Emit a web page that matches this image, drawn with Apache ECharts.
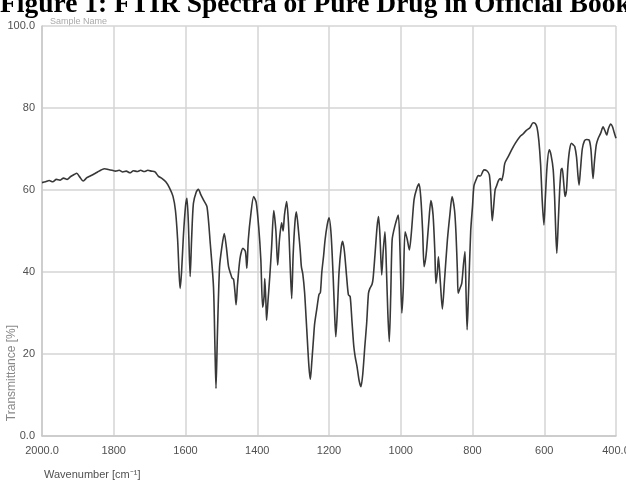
<!DOCTYPE html>
<html>
<head>
<meta charset="utf-8">
<script src="https://cdn.jsdelivr.net/npm/echarts@6/dist/echarts.min.js"></script>
<style>html,body{margin:0;padding:0;background:#fff;overflow:hidden;}#c{width:626px;height:492px;}</style>
</head>
<body>
<div id="c"></div>
<script>
const titleText = "Figure 1: FTIR Spectra of Pure Drug in Official Book";
const xAxisTitle = "Wavenumber [cm\u207B\u00B9]";
const yAxisTitle = "Transmittance [%]";
const xTickLabels = {2000: "2000.0", 1800: "1800", 1600: "1600", 1400: "1400", 1200: "1200", 1000: "1000", 800: "800", 600: "600", 400: "400.0"};
const yTickLabels = {100: "100.0", 80: "80", 60: "60", 40: "40", 20: "20", 0: "0.0"};

const wavenumber = [2000,1990,1980,1970,1960,1950,1940,1930,1920,1910,1903,1895,1885,1875,1866,1855,1845,1835,1825,1815,1805,1795,1785,1775,1765,1755,1745,1735,1725,1715,1705,1695,1685,1676,1665,1655,1645,1635,1628,1622,1618,1615,1611,1606,1600,1596,1592,1587,1583,1578,1570,1564,1558,1550,1540,1531,1522,1518,1515,1511,1505,1498,1492,1486,1480,1474,1470,1466,1462,1459,1455,1448,1440,1433,1429,1425,1418,1410,1403,1396,1390,1385,1381,1379,1376,1374,1370,1365,1360,1354,1348,1343,1338,1332,1328,1324,1318,1313,1308,1304,1300,1295,1291,1285,1280,1277,1273,1268,1262,1256,1252,1248,1243,1240,1234,1228,1224,1220,1215,1211,1205,1200,1194,1188,1184,1181,1177,1172,1166,1162,1157,1151,1146,1141,1136,1131,1127,1122,1116,1111,1106,1100,1095,1090,1086,1080,1077,1072,1066,1062,1058,1053,1049,1044,1040,1036,1032,1028,1024,1017,1007,1002,997,993,988,982,976,970,963,956,949,944,939,935,931,928,922,916,910,905,902,898,895,890,884,878,870,863,857,850,846,842,840,835,830,825,821,818,815,811,805,800,796,790,784,778,768,760,753,749,745,742,737,733,727,722,719,714,710,700,691,680,668,660,649,640,631,625,620,615,610,606,601,597,592,586,581,575,571,568,565,561,557,553,550,546,542,538,534,529,524,519,515,510,506,503,499,494,488,482,475,470,467,464,460,455,450,443,436,431,426,421,415,410,405,400];
const transmittance = [61.8,62.0,62.3,62.0,62.6,62.4,62.9,62.6,63.3,63.8,64.1,63.2,62.2,63.0,63.4,63.9,64.4,64.9,65.2,65.0,64.8,64.6,64.8,64.4,64.6,64.2,64.7,64.5,64.8,64.5,64.8,64.6,64.4,63.4,62.8,62.0,60.6,58.5,55,48,40,36,40,48.6,56,58,52,38.9,48,56.7,59.5,60.2,59,57.6,55.9,47,36.4,22,11.6,25,41.3,46.5,49.4,46,41.3,39.5,38.5,38.2,35,32,37,43.3,45.8,45,40.9,47.8,54,58.4,57,51,43,31.4,34,38.4,33,28.2,33,39,46,55,50,41.7,48,52,50,54,57.2,52,41,33.5,44,52,54.7,50,45,41.3,39.5,35,26,17,13.8,18,24,27.4,31,34.5,35,40,44,47.8,51.5,53.2,49,38,29,24.2,30,40,46,47.5,45,39,34.5,34,28,22,19.3,17,13.5,12,15,22,27.5,34.8,36,37,38.5,44,51,53.5,49,39.3,45,49.8,41,30,23,34,47.8,51,53.9,45,30,36,49.8,48,45.4,50,57.6,60.2,61.5,58,50,41.3,43,45.4,52,57.4,54,45,37.2,40,43.7,38,31,38,47.8,54,58.4,55,49.4,40,34.8,36,37.2,42,45,35,25.9,35,50,56,61,62.5,63.5,63.4,64.9,64.7,63.7,59,52.5,55,60,61,62.4,62.8,62.3,64,66.5,68.2,69.8,71.5,73,73.6,74.6,75.2,76.4,76.2,75.2,72,66,58,51.5,58,66,69.8,68.5,64.9,58,50,44.6,52,60,65,65.3,62,58.4,60,66,70,71.4,71,70.6,68,63.5,61.2,65,70,72,72.3,72.2,70,66,62.8,67,71,72.5,73.8,75.4,74.5,73.4,75,76.1,75.5,74,72.6];

const seriesData = wavenumber.map((w, i) => [w, transmittance[i]]);
const labelFont = '"Liberation Sans Narrow", "Liberation Sans", Arial, sans-serif';

const chart = echarts.init(document.getElementById('c'), null, {renderer: 'canvas', width: 626, height: 492});
chart.setOption({
  animation: false,
  backgroundColor: '#ffffff',
  grid: {left: 42, right: 10, top: 26, bottom: 56, containLabel: false, outerBoundsMode: 'none'},
  xAxis: {
    type: 'value', inverse: true, min: 400, max: 2000, interval: 200,
    axisLine: {show: true, lineStyle: {color: '#c8c8c8', width: 1.5}},
    axisTick: {show: false},
    splitLine: {show: true, lineStyle: {color: '#d4d4d4', width: 1.5}},
    axisLabel: {margin: 9, fontSize: 11, color: '#505050', fontFamily: labelFont,
      formatter: v => xTickLabels[v] !== undefined ? xTickLabels[v] : ''}
  },
  yAxis: {
    type: 'value', min: 0, max: 100, interval: 20,
    axisLine: {show: true, lineStyle: {color: '#c8c8c8', width: 1.5}},
    axisTick: {show: false},
    splitLine: {show: true, lineStyle: {color: '#d4d4d4', width: 1.5}},
    axisLabel: {margin: 7, fontSize: 11, color: '#505050', fontFamily: labelFont,
      formatter: v => yTickLabels[v] !== undefined ? yTickLabels[v] : ''}
  },
  series: [{
    type: 'line', data: seriesData, showSymbol: false, smooth: 0.25,
    lineStyle: {color: '#383838', width: 1.6}
  }],
  graphic: [
    {type: 'text', left: 0, top: -9, silent: true,
      style: {text: titleText, font: 'bold 27.5px "Liberation Serif", "Times New Roman", serif', fill: '#000'}},
    {type: 'text', left: 50, top: 17, silent: true,
      style: {text: 'Sample Name', font: '9px "Liberation Sans", sans-serif', fill: '#aaa'}},
    {type: 'text', left: 44, top: 469, silent: true,
      style: {text: xAxisTitle, font: '11px ' + labelFont, fill: '#505050'}},
    {type: 'text', x: 12, y: 373, rotation: Math.PI / 2, silent: true,
      style: {text: yAxisTitle, font: '12px ' + labelFont, fill: '#888', align: 'center', verticalAlign: 'middle'}}
  ]
});
</script>
</body>
</html>
